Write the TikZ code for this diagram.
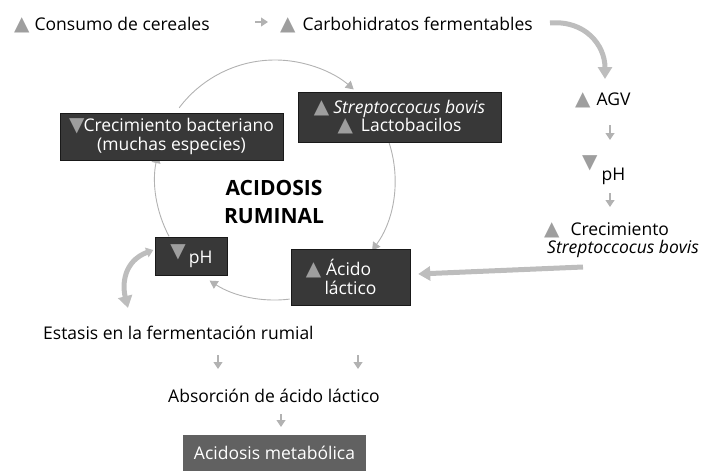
\documentclass[tikz,border=0pt]{standalone}
\usepackage{fontspec}
\setmainfont{Open Sans}
\newfontfamily\symf{DejaVu Sans}
\usetikzlibrary{arrows.meta,calc}
\definecolor{tri}{gray}{0.62}
\definecolor{boxdark}{gray}{0.22}
\definecolor{boxmid}{gray}{0.38}
\definecolor{conn}{gray}{0.70}
\definecolor{fatc}{gray}{0.74}
\newcommand\trup{{\symf\fontsize{20}{20}\selectfont\textcolor{tri}{▲}}}
\newcommand\trdn{{\symf\fontsize{20}{20}\selectfont\textcolor{tri}{▼}}}
\begin{document}
\begin{tikzpicture}[x=1pt,y=-1pt,
  every node/.style={font=\fontsize{17.5}{18.5}\selectfont, inner sep=0pt},
  lbl/.style={anchor=base west},
  darkbox/.style={fill=boxdark, draw=black!90, text=white!92, align=center},
  cyc/.style={draw=conn, line width=0.9pt, -{Triangle[width=9pt,length=8pt]}},
  smallarr/.style={draw=conn, line width=1.2pt, -{Triangle[width=9pt,length=7pt]}},
  fat/.style={draw=fatc, line width=5pt, -{Triangle[width=14pt,length=12pt]}}]

\useasboundingbox (0,0) rectangle (706,471);

% cycle arcs
\coordinate (ctr) at (275,180);
\coordinate (c1) at ($(ctr)+(-143:120)$);
\coordinate (c2) at ($(ctr)+(-18:120)$);
\coordinate (c3) at ($(ctr)+(83:120)$);
\coordinate (c4) at ($(ctr)+(152:120)$);
\draw[cyc] (c1) arc[start angle=-143, end angle=-49, radius=120];
\draw[cyc] (c2) arc[start angle=-18, end angle=36, radius=120];
\draw[cyc] (c3) arc[start angle=83, end angle=123, radius=120];
\draw[cyc] (c4) arc[start angle=152, end angle=192, radius=120];

% top row
\node[lbl] (cons) at (14,30) {\trup\hspace{5pt}Consumo de cereales};
\node[lbl] (carb) at (280,30) {\trup\hspace{7pt}Carbohidratos fermentables};
\coordinate (s1) at (255,22); \coordinate (s2) at (268,22);
\draw[smallarr] (s1) -- (s2);

% right column
\node[lbl] (agv) at (575,105) {\trup\hspace{6pt}AGV};
\node[lbl] (ph2) at (582,180) {\raisebox{12pt}{\trdn}\hspace{4pt}pH};
\node[lbl] (crec1) at (544,235) {\trup\hspace{11pt}Crecimiento};
\node[lbl] (crec2) at (547,253) {\textit{Streptoccocus bovis}};
\coordinate (s3) at (610,125); \coordinate (s4) at (610,140);
\draw[smallarr] (s3) -- (s4);
\coordinate (s5) at (610,193); \coordinate (s6) at (610,207);
\draw[smallarr] (s5) -- (s6);

% boxes of cycle
\node[darkbox, minimum width=223pt, minimum height=47pt] (bact) at (171.5,136.5)
  {\trdn\hspace{-1pt}Crecimiento bacteriano\\(muchas especies)};
\node[darkbox, minimum width=203pt, minimum height=50pt] (strep) at (399.5,117)
  {\trup\hspace{4pt}\textit{Streptoccocus bovis}\\\trup\hspace{8pt}Lactobacilos};
\node[darkbox, minimum width=72pt, minimum height=38pt] (phb) at (191.5,256)
  {\raisebox{6pt}{\trdn}\hspace{3pt}pH};
\node[darkbox, minimum width=119pt, minimum height=56pt] (acido) at (350.5,277)
  {\trup\hspace{5pt}Ácido\hspace*{24pt}\\láctico};
\node[font=\bfseries\fontsize{21}{28}\selectfont, align=center] (acid) at (274,201.5)
  {ACIDOSIS\\RUMINAL};

% bottom
\node[lbl] (est) at (43,339) {Estasis en la fermentación rumial};
\node[lbl] (abs) at (168,402) {Absorción de ácido láctico};
\node[fill=boxmid, text=white!92, minimum width=183pt, minimum height=36pt] (meta) at (274.5,453) {Acidosis metabólica};
\coordinate (s7) at (218,355); \coordinate (s8) at (218,369);
\draw[smallarr] (s7) -- (s8);
\coordinate (s9) at (358,355); \coordinate (s10) at (358,369);
\draw[smallarr] (s9) -- (s10);
\coordinate (s11) at (281,414); \coordinate (s12) at (281,427);
\draw[smallarr] (s11) -- (s12);

% fat arrows
\coordinate (f1) at (550,23); \coordinate (f2) at (605,79);
\draw[fat] (f1) .. controls (585,20) and (605,45) .. (f2);
\coordinate (f3) at (583,267);
\draw[fat] (f3) -- ([xshift=8pt,yshift=3pt]acido.east);
\coordinate (f6) at (128,308);
\draw[fat, {Triangle[width=10pt,length=7pt]}-{Triangle[width=14pt,length=12pt]}] ([xshift=-2pt,yshift=6pt]phb.west) .. controls (124,261) and (122,284) .. (f6);
\end{tikzpicture}
\end{document}
